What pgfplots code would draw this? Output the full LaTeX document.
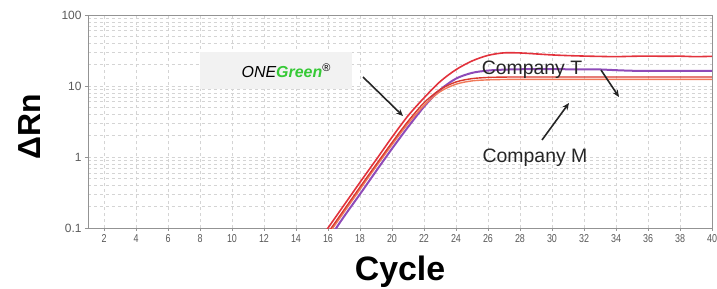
\documentclass[border=0pt]{standalone}
\usepackage{pgfplots}
\pgfplotsset{compat=1.18}
\usepackage{fontspec}
\setmainfont{Liberation Sans}
\usetikzlibrary{arrows.meta}
\definecolor{cA}{HTML}{E2323C}
\definecolor{cB}{HTML}{8E4BB8}
\definecolor{cC}{HTML}{D8382E}
\definecolor{cD}{HTML}{F07A5A}
\definecolor{onegreen}{HTML}{36C936}
\definecolor{boxgray}{HTML}{F2F2F2}
\definecolor{gridgray}{HTML}{D4D4D4}
\definecolor{tickgray}{HTML}{5A5A5A}
\begin{document}
\begin{tikzpicture}
\useasboundingbox (-88bp,-61bp) rectangle (629bp,228bp);
\begin{axis}[name=ax, at={(0,0)}, anchor=south west,
  scale only axis, width=624bp, height=213bp,
  xmin=1, xmax=40, ymode=log, ymin=0.1, ymax=100,
  xtick={2,4,...,40}, ytick={0.1,1,10,100}, yticklabels={0.1,1,10,100},
  minor x tick num=0,
  grid=both,
  major grid style={dashed, gridgray, line width=0.5bp},
  minor grid style={dashed, gridgray, line width=0.5bp},
  axis line style={color=gray!85, line width=0.8bp},
  tick style={color=gray!85},
  major tick length=3bp, minor tick length=0bp,
  tick align=outside, xtick pos=left, ytick pos=left,
  xticklabel style={font=\fontsize{11.5}{13}\selectfont, text=tickgray, xscale=0.78},
  yticklabel style={font=\fontsize{12}{14}\selectfont, text=tickgray},
  /pgf/number format/assume math mode=true,
  every axis plot/.append style={smooth, no markers},
]
\addplot[cB, line width=2bp] coordinates {
(16,0.067) (17,0.145) (18,0.30) (19,0.63) (20,1.31) (21,2.64) (22,5.1) (23,8.8) (24,12.7) (25,15.3) (26,16.5) (27,17.0) (28,17.2) (29,17.3) (30,17.3) (31,17.2) (32,17.2) (33,17.1) (34,16.7) (35,16.4) (36,16.3) (37,16.3) (38,16.3) (39,16.3) (40,16.3)};
\addplot[cD, line width=1.4bp] coordinates {
(16,0.08) (17,0.167) (18,0.35) (19,0.73) (20,1.49) (21,2.95) (22,5.3) (23,8.3) (24,10.6) (25,11.8) (26,12.2) (27,12.35) (28,12.4) (30,12.4) (32,12.4) (34,12.4) (36,12.4) (38,12.4) (40,12.4)};
\addplot[cC, line width=1.4bp] coordinates {
(16,0.086) (17,0.18) (18,0.377) (19,0.78) (20,1.6) (21,3.18) (22,5.8) (23,8.9) (24,11.4) (25,12.7) (26,13.2) (27,13.35) (28,13.4) (30,13.4) (32,13.4) (34,13.4) (36,13.4) (38,13.4) (40,13.4)};
\addplot[cA, line width=1.6bp] coordinates {
(15.5,0.069) (16,0.1) (17,0.21) (18,0.44) (19,0.91) (20,1.9) (21,3.8) (22,6.8) (23,11.5) (24,17) (25,22.5) (26,27) (27,29.3) (28,29.2) (29,28.3) (30,27.4) (31,26.8) (32,26.4) (33,26.1) (34,25.9) (35,26.2) (36,26.4) (37,26.2) (38,26.3) (39,25.9) (40,26.2)};
\end{axis}
% annotation box
\fill[boxgray] (112bp,139bp) rectangle (264bp,176bp);
\node[anchor=center, font=\fontsize{16}{18}\selectfont] at (198bp,157bp)
  {\itshape ONE\textbf{\color{onegreen}Green}\upshape\raisebox{0.35em}{\fontsize{11}{12}\selectfont ®}};
\node[font=\fontsize{19.5}{22}\selectfont, text=black!85] at (444bp,158bp) {Company T};
\node[font=\fontsize{19.5}{22}\selectfont, text=black!85] at (447bp,70bp) {Company M};
\draw[-{Stealth[length=7bp,width=6bp]}, line width=1.6bp, black!85] (275bp,151bp) -- (315bp,112bp);
\draw[-{Stealth[length=7bp,width=6bp]}, line width=1.6bp, black!85] (513bp,158bp) -- (531bp,131bp);
\draw[-{Stealth[length=7bp,width=6bp]}, line width=1.6bp, black!85] (454bp,88bp) -- (481bp,125bp);
% axis labels
\node[font=\bfseries\fontsize{34}{38}\selectfont] at (312bp,-44bp) {Cycle};
\node[font=\bfseries\fontsize{32}{36}\selectfont, rotate=90] at (-58bp,101bp) {ΔRn};
\end{tikzpicture}
\end{document}
